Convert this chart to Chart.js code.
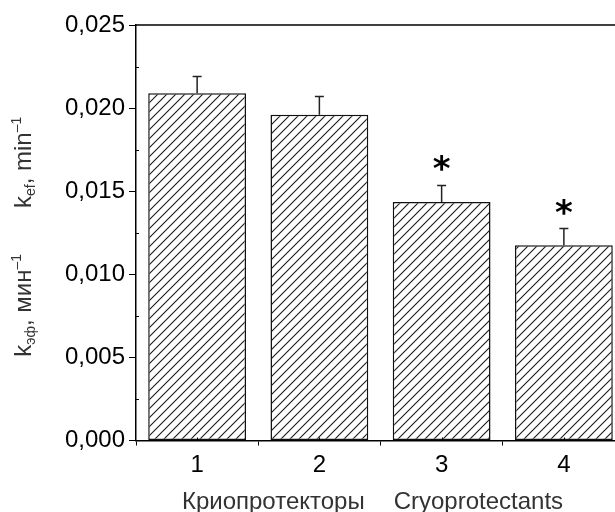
<!DOCTYPE html>
<html>
<head>
<meta charset="utf-8">
<script src="https://cdn.jsdelivr.net/npm/chart.js@4"></script>
<style>
  html, body { margin: 0; padding: 0; background: #fff; overflow: hidden; }
  #wrap { width: 640px; height: 512px; position: relative; }
</style>
</head>
<body>
<div id="wrap"><canvas id="c"></canvas></div>
<script>
// ---- data ----
const categories = ['1', '2', '3', '4'];
const values = [0.0209, 0.0196, 0.01435, 0.01175];
const errors = [0.0010, 0.0011, 0.0010, 0.0010];
const significant = [false, false, true, true];
const yTicks = [0, 0.005, 0.010, 0.015, 0.020, 0.025];
const xTitleParts = ['Криопротекторы', 'Cryoprotectants'];

const FONT = '"Liberation Sans", Arial, sans-serif';

function makeHatch() {
  const s = 9;
  const c = document.createElement('canvas');
  c.width = s; c.height = s;
  const g = c.getContext('2d');
  g.fillStyle = '#fff';
  g.fillRect(0, 0, s, s);
  g.strokeStyle = '#1a1a1a';
  g.lineWidth = 1.1;
  g.beginPath();
  g.moveTo(0, s); g.lineTo(s, 0);
  g.moveTo(-1, 1); g.lineTo(1, -1);
  g.moveTo(s - 1, s + 1); g.lineTo(s + 1, s - 1);
  g.stroke();
  return g.createPattern(c, 'repeat');
}

const decorPlugin = {
  id: 'decor',
  afterDatasetsDraw(chart) {
    const ctx = chart.ctx;
    const a = chart.chartArea;
    const ys = chart.scales.y;
    const xs = chart.scales.x;
    const meta = chart.getDatasetMeta(0);
    ctx.save();
    // top frame line
    ctx.strokeStyle = '#000';
    ctx.lineWidth = 1.5;
    ctx.beginPath();
    ctx.moveTo(a.left, a.top);
    ctx.lineTo(a.right + 20, a.top);
    ctx.stroke();
    // minor y ticks (inward)
    ctx.lineWidth = 1;
    for (let i = 0; i < yTicks.length - 1; i++) {
      const v = (yTicks[i] + yTicks[i + 1]) / 2;
      const py = Math.round(ys.getPixelForValue(v)) + 0.5;
      ctx.beginPath();
      ctx.moveTo(a.left, py);
      ctx.lineTo(a.left + 3, py);
      ctx.stroke();
    }
    // minor x ticks at category centres (inward)
    for (let i = 0; i < categories.length; i++) {
      const px = Math.round(xs.getPixelForValue(i)) + 0.5;
      ctx.beginPath();
      ctx.moveTo(px, a.bottom);
      ctx.lineTo(px, a.bottom - 3);
      ctx.stroke();
    }
    // error bars
    ctx.strokeStyle = '#222';
    ctx.lineWidth = 1.5;
    meta.data.forEach((bar, i) => {
      const x = bar.x;
      const yb = ys.getPixelForValue(values[i]);
      const yt = ys.getPixelForValue(values[i] + errors[i]);
      ctx.beginPath();
      ctx.moveTo(x, yb);
      ctx.lineTo(x, yt);
      ctx.moveTo(x - 4.5, yt);
      ctx.lineTo(x + 4.5, yt);
      ctx.stroke();
      if (significant[i]) {
        ctx.fillStyle = '#000';
        ctx.font = 'bold 34px "DejaVu Sans", sans-serif';
        ctx.textAlign = 'center';
        ctx.textBaseline = 'alphabetic';
        const m = ctx.measureText('*');
        const h = m.actualBoundingBoxAscent + m.actualBoundingBoxDescent;
        const cy = yt - 22;
        ctx.fillText('*', x, cy + h / 2 - m.actualBoundingBoxDescent);
      }
    });
    // x title
    ctx.fillStyle = '#333';
    ctx.font = '24px ' + FONT;
    ctx.textBaseline = 'alphabetic';
    ctx.textAlign = 'left';
    const gap = 29;
    const w0 = ctx.measureText(xTitleParts[0]).width;
    const w1 = ctx.measureText(xTitleParts[1]).width;
    const cx = (a.left + a.right) / 2 - 8;
    let sx = cx - (w0 + gap + w1) / 2;
    ctx.fillText(xTitleParts[0], sx, a.bottom + 68);
    ctx.fillText(xTitleParts[1], sx + w0 + gap, a.bottom + 68);
    // y title (rotated, rich text)
    const parts = [
      { t: 'k', k: 'n' }, { t: 'эф', k: 'sub' }, { t: ', мин', k: 'n' }, { t: '–1', k: 'sup' },
      { t: '', k: 'gap' },
      { t: 'k', k: 'n' }, { t: 'ef', k: 'sub' }, { t: ', min', k: 'n' }, { t: '–1', k: 'sup' }
    ];
    const fs = 24, ss = 14, ygap = 46;
    function fontFor(k) { return (k === 'n' ? fs : ss) + 'px ' + FONT; }
    let total = 0;
    parts.forEach(p => {
      if (p.k === 'gap') { p.w = ygap; }
      else { ctx.font = fontFor(p.k); p.w = ctx.measureText(p.t).width; }
      total += p.w;
    });
    ctx.save();
    const baseX = 31;
    const midY = (a.top + a.bottom) / 2 + 4;
    ctx.translate(baseX, midY);
    ctx.rotate(-Math.PI / 2);
    let px = -total / 2;
    parts.forEach(p => {
      if (p.k !== 'gap') {
        ctx.font = fontFor(p.k);
        const dy = p.k === 'sub' ? 4 : (p.k === 'sup' ? -10 : 0);
        ctx.fillText(p.t, px, dy);
      }
      px += p.w;
    });
    ctx.restore();
    ctx.restore();
  }
};

const ctxEl = document.getElementById('c');
new Chart(ctxEl, {
  type: 'bar',
  data: {
    labels: categories,
    datasets: [{
      data: values,
      backgroundColor: makeHatch(),
      borderColor: '#111',
      borderWidth: 1.5,
      borderSkipped: false,
      barPercentage: 0.8,
      categoryPercentage: 1.0
    }]
  },
  options: {
    responsive: true,
    maintainAspectRatio: false,
    animation: false,
    layout: { padding: { left: 0, right: 15, top: 25, bottom: 0 } },
    plugins: { legend: { display: false }, tooltip: { enabled: false } },
    scales: {
      x: {
        offset: true,
        grid: { offset: true, drawOnChartArea: false, tickLength: 5, color: '#000', lineWidth: 1 },
        border: { display: true, color: '#000', width: 1.5 },
        ticks: { color: '#000', font: { family: FONT, size: 24 }, padding: 5 },
        afterFit(scale) { scale.height = 71.5; }
      },
      y: {
        min: 0, max: 0.025,
        grid: { drawOnChartArea: false, tickLength: 7, color: '#000', lineWidth: 1 },
        border: { display: true, color: '#000', width: 1.5 },
        afterBuildTicks(scale) { scale.ticks = yTicks.map(v => ({ value: v })); },
        ticks: {
          color: '#000',
          font: { family: FONT, size: 24 },
          padding: 4,
          callback: (v) => Number(v).toFixed(3).replace('.', ',')
        },
        afterFit(scale) { scale.width = 136; }
      }
    }
  },
  plugins: [decorPlugin]
});
</script>
</body>
</html>
